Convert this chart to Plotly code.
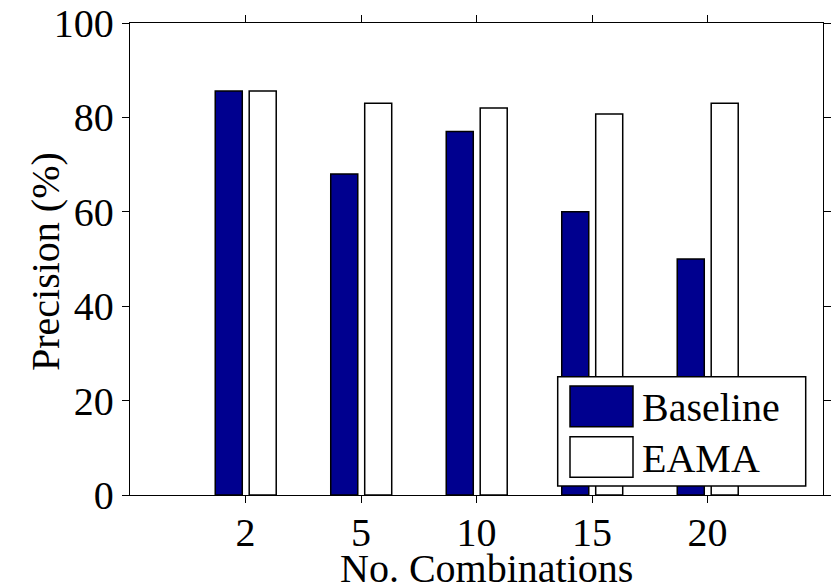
import plotly.graph_objects as go

categories = ["2", "5", "10", "15", "20"]
baseline = [85.6, 68, 77, 60, 50]
eama = [85.6, 83, 82, 80.7, 83]
series_names = ["Baseline", "EAMA"]
series_colors = ["#00008F", "#FFFFFF"]
y_ticks = [0, 20, 40, 60, 80, 100]

W, H = 835, 587
L, R, T, B = 130, 12, 23, 92
pw, ph = W - L - R, H - T - B

def px(x):
    return (x - L) / pw

def py(y):
    return (H - B - y) / ph

FONT = "Liberation Serif"
FS = 40

fig = go.Figure()
for name, vals, col, off in zip(series_names, [baseline, eama], series_colors, [-0.262, 0.032]):
    fig.add_trace(go.Bar(
        x=categories, y=vals, name=name, width=0.234, offset=off,
        marker=dict(color=col, line=dict(color="black", width=1.5)),
        showlegend=False,
    ))

# custom legend (MATLAB style)
shapes = [dict(type="rect", xref="paper", yref="paper",
               x0=px(557.7), x1=px(805.7), y0=py(486), y1=py(376.7),
               line=dict(color="black", width=1.5), fillcolor="white", layer="above")]
annotations = []
sw_y = [(386, 426.7), (436.7, 477.3)]
for (y0, y1), name, col in zip(sw_y, series_names, series_colors):
    shapes.append(dict(type="rect", xref="paper", yref="paper",
                       x0=px(570), x1=px(633), y0=py(y1), y1=py(y0),
                       line=dict(color="black", width=1.5), fillcolor=col, layer="above"))
    annotations.append(dict(text=name, xref="paper", yref="paper",
                            x=px(640), y=py((y0 + y1) / 2 + 1), xanchor="left", yanchor="middle",
                            showarrow=False, font=dict(family=FONT, size=FS, color="black")))

annotations.append(dict(text="No. Combinations", xref="paper", yref="paper",
                        x=px(486), y=py(568), xanchor="center", yanchor="middle",
                        showarrow=False, font=dict(family=FONT, size=FS, color="black")))
annotations.append(dict(text="Precision (%)", xref="paper", yref="paper",
                        x=px(45), y=py(262), xanchor="center", yanchor="middle", textangle=-90,
                        showarrow=False, font=dict(family=FONT, size=FS, color="black")))

fig.update_layout(
    width=W, height=H,
    margin=dict(l=L, r=R, t=T, b=B, autoexpand=False),
    plot_bgcolor="white", paper_bgcolor="white",
    barmode="overlay",
    shapes=shapes, annotations=annotations,
    font=dict(family=FONT, size=FS, color="black"),
)
fig.update_xaxes(
    type="category", range=[-1, 5], showgrid=False, zeroline=False, automargin=False,
    showline=True, linecolor="black", linewidth=1.3, mirror="ticks",
    ticks="outside", ticklen=7, tickwidth=1.3, tickcolor="black", ticklabelstandoff=-5,
    tickfont=dict(family=FONT, size=FS, color="black"),
)
fig.update_yaxes(
    range=[0, 100], tickvals=y_ticks, showgrid=False, zeroline=False, automargin=False,
    showline=True, linecolor="black", linewidth=1.3, mirror="ticks",
    ticks="outside", ticklen=7, tickwidth=1.3, tickcolor="black",
    tickfont=dict(family=FONT, size=FS, color="black"),
)
fig.write_html("out.html")
